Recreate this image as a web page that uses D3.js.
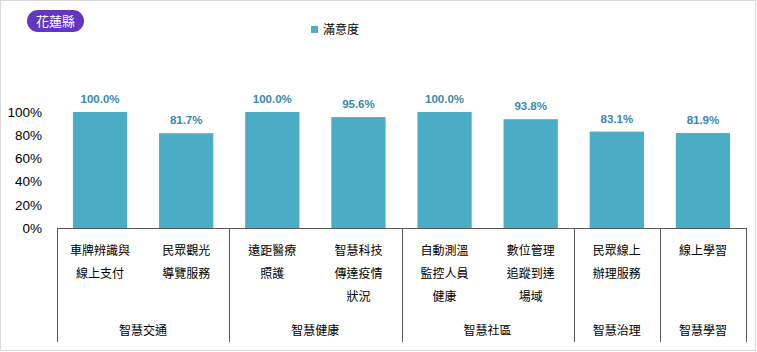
<!DOCTYPE html>
<html>
<head>
<meta charset="utf-8">
<script src="https://cdn.jsdelivr.net/npm/d3@7"></script>
<style>
  body { margin: 0; background: #fff; }
  text { font-family: "Noto Sans CJK TC", "Liberation Sans", sans-serif; }
</style>
</head>
<body>
<svg id="chart"></svg>
<script>
const items = ["車牌辨識與|線上支付", "民眾觀光|導覽服務", "遠距醫療|照護", "智慧科技|傳達疫情|狀況",
               "自動測溫|監控人員|健康", "數位管理|追蹤到達|場域", "民眾線上|辦理服務", "線上學習"];
const values = [1.0, 0.817, 1.0, 0.956, 1.0, 0.938, 0.831, 0.819];
const groups = ["智慧交通", "智慧健康", "智慧社區", "智慧治理", "智慧學習"];
const groupSizes = [2, 2, 2, 1, 1];
const yTicks = [0, 0.2, 0.4, 0.6, 0.8, 1.0];
const county = "花蓮縣";
const seriesName = "滿意度";

const W = 757, H = 352;
const margin = { top: 112, right: 11, bottom: 124, left: 57 };
const width = W - margin.left - margin.right,
      height = H - margin.top - margin.bottom;

const svg = d3.select("#chart").attr("width", W).attr("height", H);

// outer frame
svg.append("rect")
  .attr("x", 0.5).attr("y", 0.5)
  .attr("width", W - 2).attr("height", H - 2)
  .attr("fill", "#fff").attr("stroke", "#d9d9d9");

// county badge
svg.append("rect")
  .attr("x", 27).attr("y", 10).attr("width", 57).attr("height", 22)
  .attr("rx", 11).attr("fill", "#6236c0");
svg.append("text")
  .attr("x", 55.5).attr("y", 21).attr("dy", "0.35em")
  .attr("text-anchor", "middle").attr("fill", "#fff")
  .style("font-size", "13px").text(county);

// legend
svg.append("rect").attr("x", 311).attr("y", 26).attr("width", 7).attr("height", 7).attr("fill", "#4bacc6");
svg.append("text").attr("x", 323).attr("y", 30).attr("dy", "0.35em")
  .style("font-size", "12px").attr("fill", "#000").text(seriesName);

const g = svg.append("g").attr("transform", `translate(${margin.left},${margin.top})`);

const x = d3.scaleBand().domain(d3.range(items.length)).range([0, width]).paddingInner(0.37).paddingOuter(0.185);
const y = d3.scaleLinear().domain([0, 1]).range([height, 0]);

// y axis labels
const yAxis = g.append("g")
  .call(d3.axisLeft(y).tickValues(yTicks).tickFormat(d3.format(".0%")).tickSize(0).tickPadding(15));
yAxis.select(".domain").remove();
yAxis.selectAll("text").style("font-size", "13.5px").attr("fill", "#000")
  .style("font-family", "'Liberation Sans', sans-serif");

// bars
g.selectAll(".bar").data(values).enter().append("rect")
  .attr("x", (d, i) => x(i))
  .attr("y", d => y(d))
  .attr("width", x.bandwidth())
  .attr("height", d => height - y(d))
  .attr("fill", "#4bacc6");

// value labels
g.selectAll(".val").data(values).enter().append("text")
  .attr("x", (d, i) => x(i) + x.bandwidth() / 2)
  .attr("y", d => y(d) - 9)
  .attr("text-anchor", "middle")
  .style("font-family", "'Liberation Sans', sans-serif")
  .style("font-size", "11.5px").style("font-weight", "bold")
  .attr("fill", "#3b88ad")
  .text(d => d3.format(".1%")(d));

// baseline
g.append("line").attr("x1", 0).attr("x2", width).attr("y1", height + 0.5).attr("y2", height + 0.5)
  .attr("stroke", "#595959");

// category labels
items.forEach((label, i) => {
  const cx = x(i) + x.bandwidth() / 2;
  label.split("|").forEach((line, j) => {
    g.append("text")
      .attr("x", cx).attr("y", height + 23 + j * 23).attr("dy", "0.35em")
      .attr("text-anchor", "middle").style("font-size", "12px").attr("fill", "#000")
      .text(line);
  });
});

// group separators and labels
let start = 0;
const bounds = [0];
groupSizes.forEach(n => { start += n; bounds.push(start); });
bounds.forEach(b => {
  const bx = b === 0 ? 0 : (b === items.length ? width : x(b) - x.step() * x.paddingInner() / 2);
  g.append("line").attr("x1", Math.round(bx) + 0.5).attr("x2", Math.round(bx) + 0.5)
    .attr("y1", height).attr("y2", height + 114).attr("stroke", "#595959");
});
groups.forEach((name, k) => {
  const a = bounds[k], b = bounds[k + 1];
  const x0 = x(a) + x.bandwidth() / 2, x1 = x(b - 1) + x.bandwidth() / 2;
  g.append("text")
    .attr("x", (x0 + x1) / 2).attr("y", height + 103).attr("dy", "0.35em")
    .attr("text-anchor", "middle").style("font-size", "12px").attr("fill", "#000")
    .text(name);
});
</script>
</body>
</html>
